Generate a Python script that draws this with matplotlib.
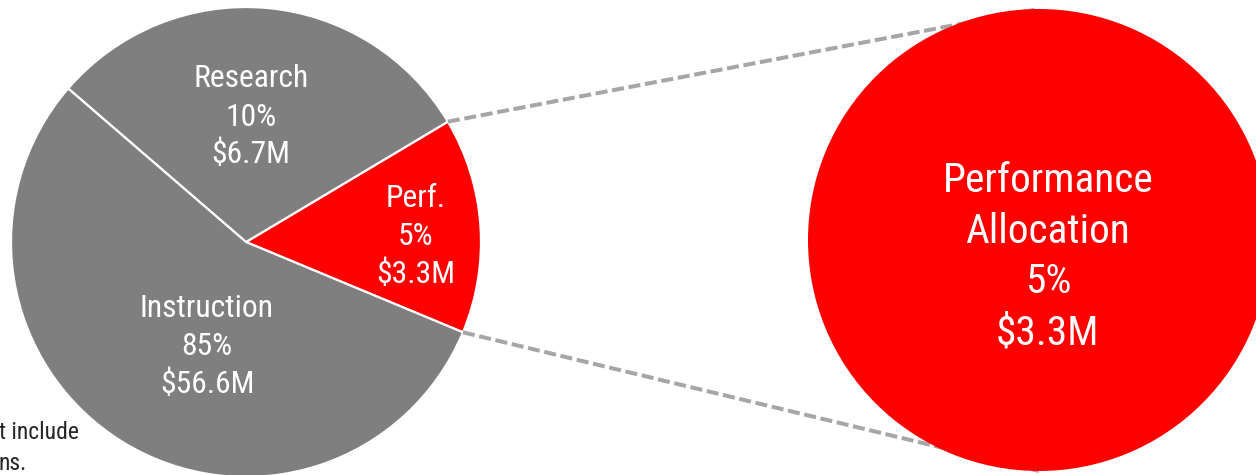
import matplotlib
matplotlib.use("Agg")
import matplotlib.pyplot as plt
from matplotlib.patches import Circle
from matplotlib import font_manager
import numpy as np

# ---- data ----
categories = ["Perf.", "Research", "Instruction"]
shares_pct = [5, 10, 85]
amounts_m = [3.3, 6.7, 56.6]
# slice sizes as drawn in the reference (the picture is not proportional)
drawn_slice_deg = [53.4, 108.4, 198.2]
highlight_title = ["Performance", "Allocation"]
footnote_lines = ["t include", "ns."]

GREY = "#7F7F7F"
RED = "#FF0000"
DASH = "#A6A6A6"

# ---- font choice: prefer a narrow sans ----
entries = font_manager.fontManager.ttflist
names = {f.name for f in entries}
FONT, STRETCH = None, "normal"
for n in ["Liberation Sans Narrow", "Arial Narrow", "Roboto Condensed",
          "Open Sans Condensed", "Noto Sans Condensed"]:
    if n in names:
        FONT = n
        break
if FONT is None:
    def is_cond(f):
        s = f.stretch
        if isinstance(s, str):
            return "condensed" in s
        try:
            return int(s) < 500
        except Exception:
            return False
    for fam in ["Roboto", "Noto Sans", "Open Sans", "Liberation Sans", "Lato", "Inter"]:
        if any(f.name == fam and is_cond(f) for f in entries):
            FONT, STRETCH = fam, "condensed"
            break
if FONT is None:
    FONT = "Roboto" if "Roboto" in names else "Liberation Sans"
FAM = [FONT, "DejaVu Sans"]
WEIGHT = "normal"

W, H = 1256, 475
fig = plt.figure(figsize=(W / 100, H / 100), dpi=100)
ax = fig.add_axes([0, 0, 1, 1])
renderer = fig.canvas.get_renderer()

pie_c = (246, H - 242)
pie_r = 235
start = -22.6
colors = [RED, GREY, GREY]
wedges, _ = ax.pie(drawn_slice_deg, colors=colors, startangle=start,
                   counterclock=True, center=pie_c, radius=pie_r,
                   wedgeprops=dict(edgecolor="white", linewidth=1.6),
                   normalize=True)

big_c = (1039, H - 240)
big_r = 231

a0 = np.deg2rad(start)
a1 = np.deg2rad(start + drawn_slice_deg[0])
p_top = (pie_c[0] + pie_r * np.cos(a1), pie_c[1] + pie_r * np.sin(a1))
p_bot = (pie_c[0] + pie_r * np.cos(a0), pie_c[1] + pie_r * np.sin(a0))
for p, q in [(p_top, (big_c[0], big_c[1] + big_r)), (p_bot, (big_c[0], big_c[1] - big_r))]:
    ax.plot([p[0], q[0]], [p[1], q[1]], color=DASH, lw=2.9,
            dashes=(3.0, 1.15), zorder=1, solid_capstyle="butt",
            dash_capstyle="butt")

ax.add_patch(Circle(big_c, big_r, facecolor=RED, edgecolor="none", zorder=2))

ax.set_xlim(0, W)
ax.set_ylim(0, H)
ax.set_aspect("equal")
ax.axis("off")


def fit_size(word, target_px, height_size):
    t = ax.text(0, 0, word, fontsize=height_size, family=FAM,
                fontstretch=STRETCH, fontweight=WEIGHT)
    w = t.get_window_extent(renderer).width
    t.remove()
    width_size = height_size * target_px / w
    return min(height_size * 1.05, width_size)


lab_size = fit_size("Instruction", 134, 22)
big_size = fit_size("Performance", 211, 30)
foot_size = fit_size("t include", 80, 16.5)

# pie labels: centre x and baselines (pixel rows) of the three lines
label_layout = {"Perf.": (416, [207, 245, 283]),
                "Research": (251, [87, 126, 163]),
                "Instruction": (207, [317, 355, 393])}
for cat, s, a in zip(categories, shares_pct, amounts_m):
    x, ys = label_layout[cat]
    for line, y in zip([cat, f"{s}%", f"${a}M"], ys):
        ax.text(x, H - y, line, ha="center", va="baseline", color="white",
                fontsize=lab_size, family=FAM, fontstretch=STRETCH,
                fontweight=WEIGHT, zorder=5)

big_lines = highlight_title + [f"{shares_pct[0]}%", f"${amounts_m[0]}M"]
for line, y in zip(big_lines, [192, 243, 293, 345]):
    ax.text(1048, H - y, line, ha="center", va="baseline", color="white",
            fontsize=big_size, family=FAM, fontstretch=STRETCH,
            fontweight=WEIGHT, zorder=5)

for line, y in zip(footnote_lines, [439, 470]):
    ax.text(-1, H - y, line, ha="left", va="baseline", color="#262626",
            fontsize=foot_size, family=FAM, fontstretch=STRETCH,
            fontweight="normal", zorder=5)

fig.savefig("out.png", dpi=100)
